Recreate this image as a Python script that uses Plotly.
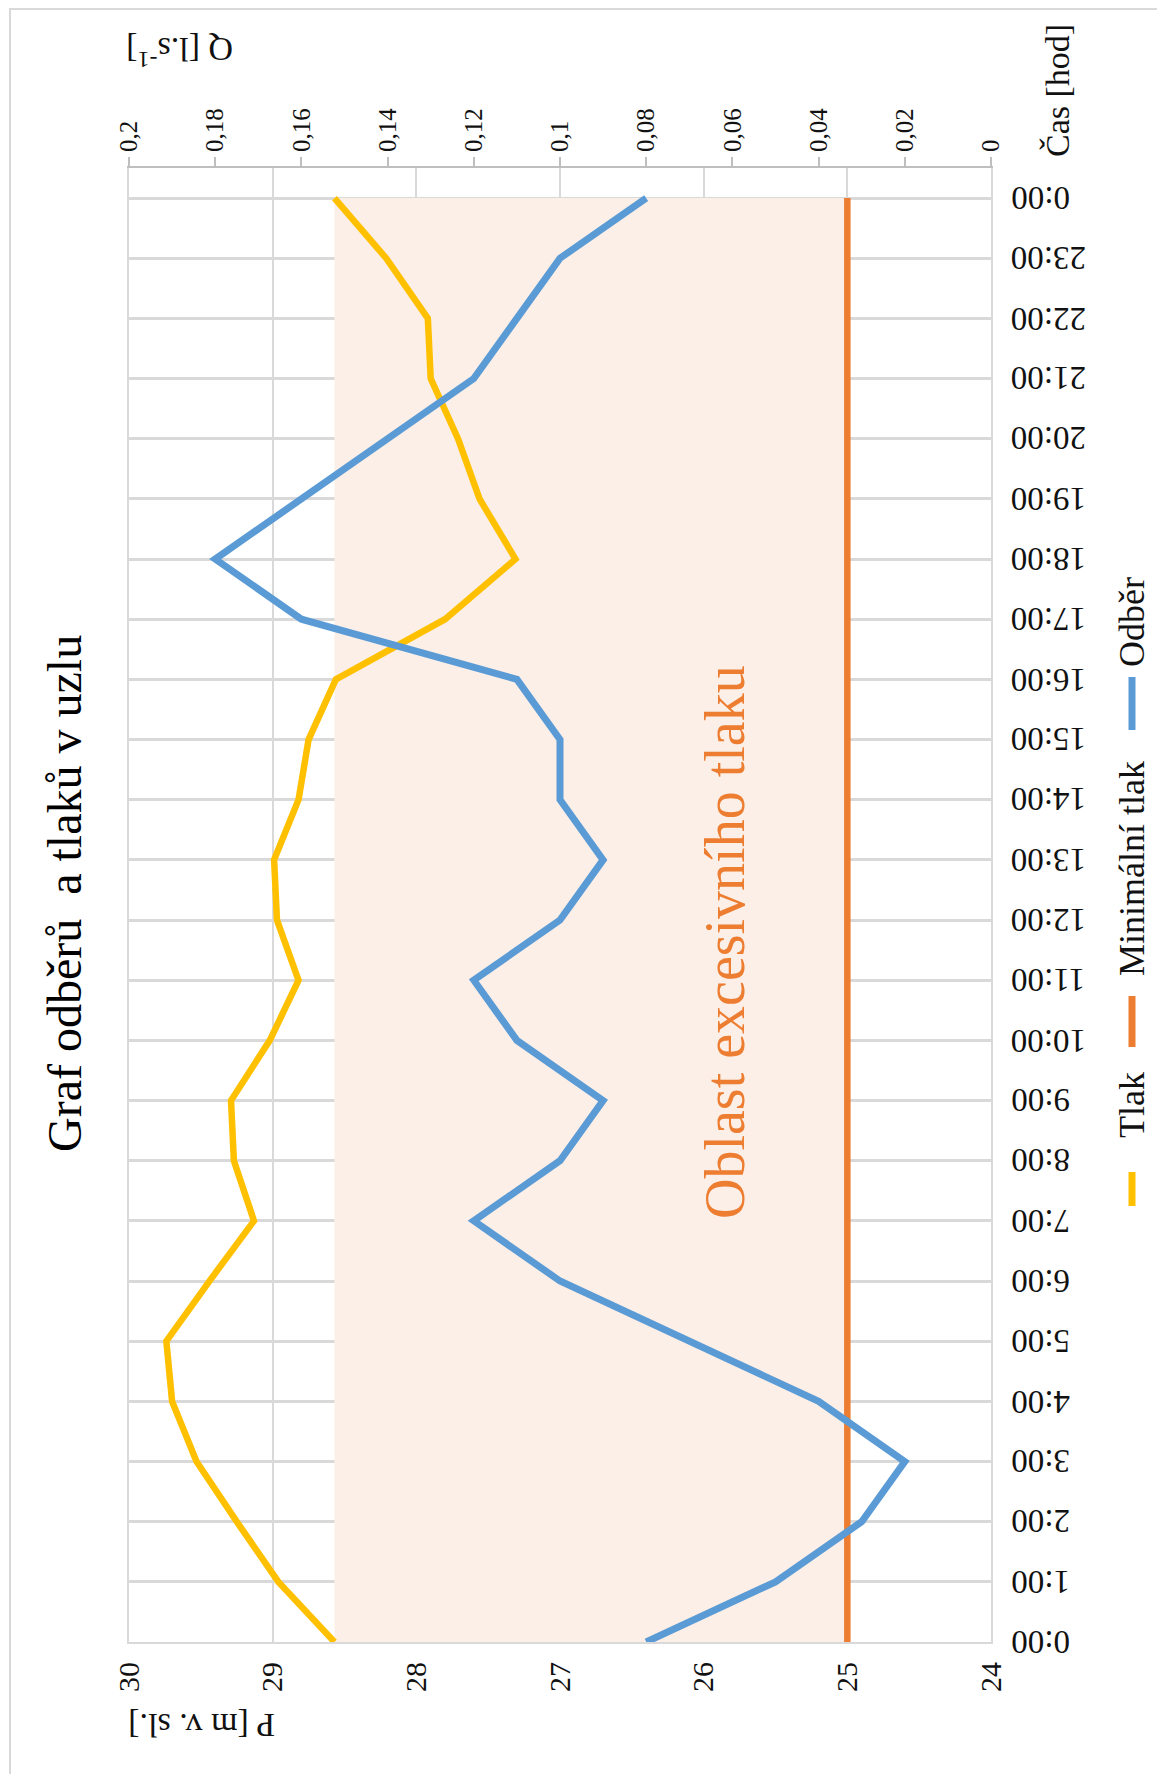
import plotly.graph_objects as go

# ---------------- data ----------------
hours = list(range(25))
hour_labels = ["0:00", "1:00", "2:00", "3:00", "4:00", "5:00", "6:00", "7:00", "8:00",
               "9:00", "10:00", "11:00", "12:00", "13:00", "14:00", "15:00", "16:00",
               "17:00", "18:00", "19:00", "20:00", "21:00", "22:00", "23:00", "0:00"]

tlak = [28.57, 28.96, 29.25, 29.53, 29.70, 29.74, 29.44, 29.13, 29.27, 29.29, 29.02,
        28.82, 28.97, 28.99, 28.82, 28.75, 28.56, 27.80, 27.31, 27.56, 27.71, 27.90,
        27.92, 28.21, 28.57]

odber = [0.08, 0.05, 0.03, 0.02, 0.04, 0.07, 0.10, 0.12, 0.10, 0.09, 0.11, 0.12, 0.10,
         0.09, 0.10, 0.10, 0.11, 0.16, 0.18, 0.16, 0.14, 0.12, 0.11, 0.10, 0.08]

min_tlak = [25, 25, 25, 25, 25, 25, 25, 25, 25, 25, 25, 25, 25, 25, 25, 25, 25, 25, 25,
            25, 25, 25, 25, 25, 25]

oblast_horni = [28.57, 28.57, 28.57, 28.57, 28.57, 28.57, 28.57, 28.57, 28.57, 28.57,
                28.57, 28.57, 28.57, 28.57, 28.57, 28.57, 28.57, 28.57, 28.57, 28.57,
                28.57, 28.57, 28.57, 28.57, 28.57]

p_ticks = [30, 29, 28, 27, 26, 25, 24]
q_ticks = [0.2, 0.18, 0.16, 0.14, 0.12, 0.1, 0.08, 0.06, 0.04, 0.02, 0]
q_labels = ["0,2", "0,18", "0,16", "0,14", "0,12", "0,1", "0,08", "0,06", "0,04", "0,02", "0"]

legend_names = ["Tlak", "Minimální tlak", "Odběr"]

# ---------------- styling ----------------
FONT = "'Liberation Serif', 'Times New Roman', Times, serif"
YELLOW = "#FFC000"
ORANGE = "#ED7D31"
BLUE = "#5B9BD5"
FILL = "rgb(252,239,231)"
GRID = "#D9D9D9"
TXT = "#111111"

W, H = 1165, 1774
L, R, T, B = 121, 182, 160, 140
pw = W - L - R
ph = H - T - B
DX, DY = -7, -7  # page offset compensation for measured reference positions


def px(x):
    return (x + DX - L) / pw


def py(y):
    return (H - B - (y + DY)) / ph


fig = go.Figure()

# excess pressure area
fig.add_trace(go.Scatter(x=oblast_horni, y=hours, mode="lines",
                         line=dict(width=0, color=FILL), showlegend=False,
                         hoverinfo="skip"))
fig.add_trace(go.Scatter(x=min_tlak, y=hours, mode="lines", fill="tonextx",
                         fillcolor=FILL, line=dict(width=0, color=FILL),
                         showlegend=False, hoverinfo="skip"))
# minimum pressure
fig.add_trace(go.Scatter(x=min_tlak, y=hours, mode="lines", name=legend_names[1],
                         line=dict(color=ORANGE, width=6.5), showlegend=False))
# pressure
fig.add_trace(go.Scatter(x=tlak, y=hours, mode="lines", name=legend_names[0],
                         line=dict(color=YELLOW, width=6.5), showlegend=False))
# demand (secondary axis)
fig.add_trace(go.Scatter(x=odber, y=hours, mode="lines", name=legend_names[2],
                         xaxis="x2", line=dict(color=BLUE, width=7),
                         showlegend=False))

fig.update_layout(
    width=W, height=H,
    margin=dict(l=L, r=R, t=T, b=B, autoexpand=False),
    paper_bgcolor="white", plot_bgcolor="white",
    font=dict(family=FONT, color=TXT),
    separators=", ",
    xaxis=dict(range=[30, 24], tickvals=p_ticks, tickangle=-90,
               showgrid=True, gridcolor=GRID, gridwidth=2,
               showline=True, linecolor=GRID, linewidth=2, mirror=True,
               zeroline=False, ticks="", ticklabelstandoff=6,
               tickfont=dict(size=30, family=FONT, color=TXT)),
    xaxis2=dict(range=[0.2, 0], overlaying="x", side="top", anchor="y",
                tickvals=q_ticks, ticktext=q_labels, tickangle=-90,
                showgrid=False, zeroline=False,
                showline=True, linecolor="#BFBFBF", linewidth=2,
                ticks="outside", ticklen=9, tickwidth=2, tickcolor="#BFBFBF",
                tickfont=dict(size=25, family=FONT, color=TXT)),
    yaxis=dict(range=[0, 24.5], side="right", tickvals=hours,
               showticklabels=False, showgrid=True, gridcolor=GRID, gridwidth=2.5,
               showline=True, linecolor=GRID, linewidth=2, mirror=True,
               zeroline=False, ticks=""),
)

ann = []
# hour labels (upside down, as in the rotated original)
for h, lab in zip(hours, hour_labels):
    ann.append(dict(text=lab, x=px(1008), y=h, yref="y", xanchor="left",
                    textangle=180, font=dict(size=33, color=TXT)))

ann.append(dict(text="Graf odběrů\u00a0 a tlaků v uzlu", x=px(63), y=py(893),
                textangle=-90, font=dict(size=48, color="#000")))
ann.append(dict(text="Oblast excesivního tlaku", x=px(724), y=py(941),
                textangle=-90, font=dict(size=56, color=ORANGE)))
ann.append(dict(text="Čas [hod]", x=px(1057), y=py(90), textangle=-90,
                font=dict(size=34, color=TXT)))
ann.append(dict(text="Q [l.s<sup>-1</sup>]", x=px(179), y=py(51), textangle=180,
                font=dict(size=34, color=TXT)))
ann.append(dict(text="P [m v. sl.]", x=px(201), y=py(1725), textangle=180,
                font=dict(size=34, color=TXT)))

# rotated legend
leg = [(legend_names[0], YELLOW, 1171, 1205, 1104),
       (legend_names[1], ORANGE, 995, 1046, 868),
       (legend_names[2], BLUE, 676, 729, 621)]
shapes = []
for name, col, y0, y1, yt in leg:
    shapes.append(dict(type="line", xref="paper", yref="paper",
                       x0=px(1131), x1=px(1131), y0=py(y0), y1=py(y1),
                       line=dict(color=col, width=7)))
    ann.append(dict(text=name, x=px(1131), y=py(yt), textangle=-90,
                    font=dict(size=36, color=TXT)))

# chart border
shapes.append(dict(type="rect", xref="paper", yref="paper", layer="below",
                   x0=px(9), x1=px(1400), y0=py(8), y1=py(2000),
                   line=dict(color="#D9D9D9", width=2), fillcolor="rgba(0,0,0,0)"))

for a in ann:
    a.setdefault("xref", "paper")
    a.setdefault("yref", "paper")
    a.setdefault("xanchor", "center")
    a.update(showarrow=False, yanchor="middle")
    a["font"]["family"] = FONT

fig.update_layout(annotations=ann, shapes=shapes)

fig.write_html("out.html")
